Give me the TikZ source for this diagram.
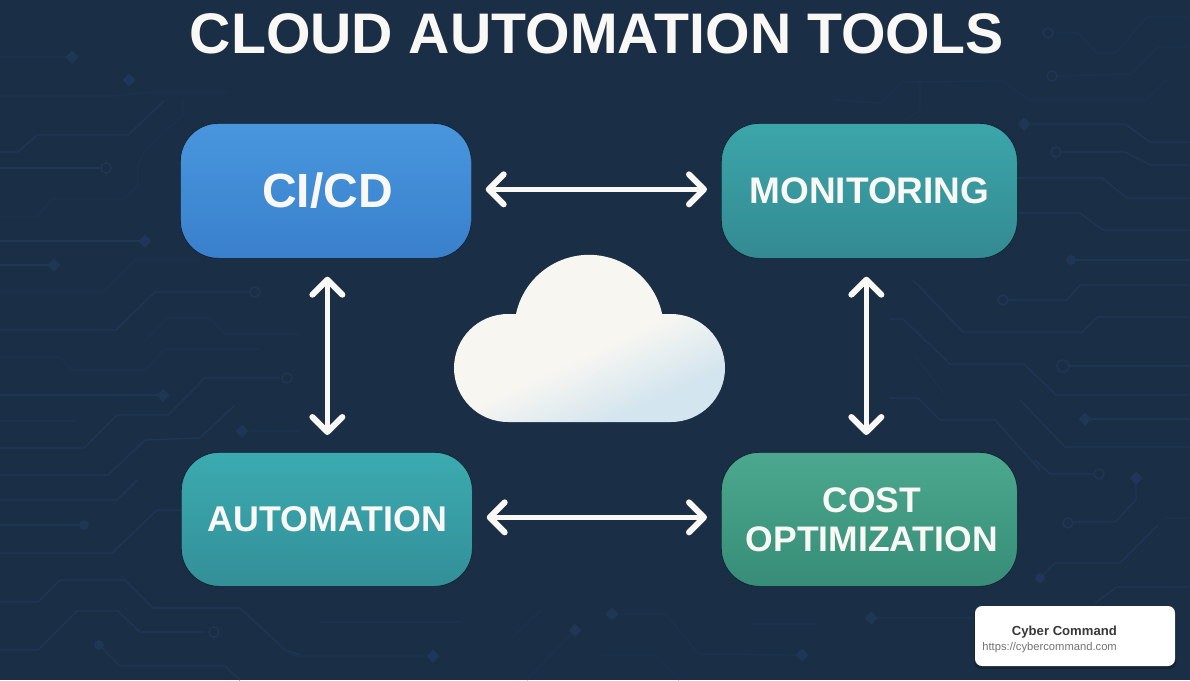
\documentclass[tikz,border=0pt]{standalone}
\usepackage{fontspec}
\setmainfont{Liberation Sans}
\usetikzlibrary{arrows.meta}
\definecolor{bgc}{HTML}{1A2E46}
\definecolor{tracec}{HTML}{1F3754}
\definecolor{tracefaint}{HTML}{1C324C}
\definecolor{blueT}{HTML}{4896DE}
\definecolor{blueB}{HTML}{3A80CC}
\definecolor{tealT}{HTML}{3BA6AA}
\definecolor{tealB}{HTML}{348A92}
\definecolor{autoT}{HTML}{3BABB0}
\definecolor{autoB}{HTML}{338F98}
\definecolor{greenT}{HTML}{4BA88D}
\definecolor{greenB}{HTML}{378D78}
\definecolor{cloudA}{HTML}{F7F6F1}
\definecolor{cloudB}{HTML}{D3E5EE}
\definecolor{whitec}{HTML}{FAF8F4}
\pgfdeclareverticalshading{cloudsh}{100bp}{color(0bp)=(cloudB); color(29bp)=(cloudB); color(46bp)=(cloudA); color(100bp)=(cloudA)}
\tikzset{
  x=1pt,y=-1pt,
  trace/.style={draw=tracec,line width=1.4pt,line join=round},
  tracelow/.style={draw=tracefaint,line width=1.4pt,line join=round},
  ring/.style={draw=tracec,line width=1.4pt,fill=bgc},
  padc/.style={fill=tracec},
  box/.style={rounded corners=38pt,draw=bgc!70!black,line width=.7pt,text=whitec,font=\bfseries,align=center,inner sep=0pt,anchor=north west},
  link/.style={draw=whitec,line width=4.8pt,line cap=round,{Straight Barb[length=15pt,width=30pt,round,line width=6pt]}-{Straight Barb[length=15pt,width=30pt,round,line width=6pt]}},
}
\newcommand{\diam}[2]{\fill[padc] (#1-6.5,#2) -- (#1,#2-6.5) -- (#1+6.5,#2) -- (#1,#2+6.5) -- cycle;}
\begin{document}
\begin{tikzpicture}
\useasboundingbox (0,0) rectangle (1190,680);
\fill[bgc] (0,0) rectangle (1190,680);
% left traces
\draw[trace] (0,152) -- (18,152) -- (37,135) -- (128,135) -- (165,100);
\draw[trace] (0,168) -- (100,168);
\draw[ring] (106,168) circle (5);
\draw[tracelow] (183,100) -- (183,115) -- (145,150) -- (138,165) -- (138,185) -- (123,199) -- (52,199) -- (37,217) -- (0,217);
\draw[trace] (0,241) -- (140,241); \diam{145}{241}
\draw[trace] (0,265) -- (50,265); \diam{54}{265}
\draw[trace] (0,330) -- (116,330) -- (155,292) -- (250,292);
\draw[ring] (255,292) circle (5);
\draw[tracelow] (0,292) -- (103,292) -- (135,260) -- (200,260);
\draw[tracelow] (145,340) -- (168,318) -- (210,318) -- (225,334) -- (300,334);
\draw[tracelow] (0,357) -- (60,357) -- (72,370) -- (145,370) -- (165,349) -- (260,349);
\draw[trace] (0,395) -- (160,395); \diam{163}{395}
\draw[tracelow] (0,421) -- (75,421);
\draw[trace] (0,448) -- (84,448) -- (117,415) -- (168,415) -- (205,378) -- (280,378);
\draw[ring] (287,378) circle (5);
\draw[trace] (0,475) -- (108,475) -- (145,440) -- (200,438) -- (235,405);
\draw[tracelow] (250,431) -- (300,431); \diam{242}{431}
\draw[trace] (0,500) -- (117,500) -- (137,480);
\draw[trace] (0,525) -- (80,525); \fill[padc] (84,525) circle (5);
\draw[trace] (0,553) -- (112,553) -- (157,510) -- (181,510);
\draw[trace] (0,602) -- (38,602) -- (60,580) -- (125,580) -- (153,608) -- (240,608) -- (285,650) -- (300,655);
\draw[trace] (0,650) -- (38,650) -- (77,611) -- (118,611) -- (140,632) -- (205,632);
\draw[ring] (214,632) circle (5);
\fill[padc] (99,645) circle (5);
\draw[trace] (99,645) -- (120,666) -- (225,666) -- (240,680);
% top
\draw[tracelow] (0,57) -- (68,57); \diam{72}{57}
\draw[tracelow] (0,96) -- (114,96) -- (152,92) -- (228,92); \diam{129}{80}
\draw[tracelow] (835,100) -- (880,103) -- (903,82) -- (1002,81) -- (1029,100) -- (1146,100) -- (1167,80);
\draw[tracelow] (920,80) -- (920,110) -- (905,120);
\draw[tracelow] (1190,17) -- (1147,17) -- (1116,53) -- (1097,53) -- (1078,33) -- (1053,33);
\draw[ring] (1048,33) circle (5);
\draw[tracelow] (1190,47) -- (1158,47) -- (1131,74) -- (1057,76);
\draw[ring] (1052,76) circle (5);
% right
\draw[trace] (1024,124) -- (1125,124) -- (1150,142) -- (1190,142); \diam{1024}{124}
\draw[trace] (1061,152) -- (1125,152) -- (1150,165) -- (1190,165);
\draw[ring] (1056,152) circle (5);
\draw[trace] (1017,178) -- (1102,178) -- (1127,198) -- (1190,198);
\draw[trace] (1017,213) -- (1080,213) -- (1103,230) -- (1190,230);
\fill[padc] (1071,260) circle (5);
\draw[trace] (1071,260) -- (1190,260);
\draw[trace] (913,280) -- (963,332) -- (1082,332) -- (1098,317) -- (1190,317);
\draw[trace] (1008,300) -- (1067,300) -- (1080,285) -- (1190,285);
\draw[ring] (1003,300) circle (5);
\draw[trace] (890,319) -- (903,319) -- (950,364) -- (1024,364) -- (1056,395) -- (1190,395);
\draw[trace] (1069,366) -- (1190,366);
\draw[ring] (1063,366) circle (6);
\draw[trace] (1090,419) -- (1190,419); \diam{1085}{419}
\draw[trace] (890,398) -- (918,398) -- (940,420) -- (995,420) -- (1040,470);
\draw[trace] (1020,400) -- (1065,447) -- (1190,447);
\draw[tracelow] (915,355) -- (945,395);
\draw[trace] (1035,460) -- (1050,474) -- (1094,474);
\draw[ring] (1099,474) circle (5);
\diam{1136}{478}
\draw[trace] (1136,478) -- (1136,500) -- (1115,522) -- (1073,522);
\draw[ring] (1068,523) circle (5);
\fill[padc] (1040,578) circle (5);
\draw[trace] (1040,578) -- (1055,563) -- (1120,563) -- (1158,525);
\draw[tracelow] (1165,518) -- (1190,518);
\draw[trace] (1095,603) -- (1117,587) -- (1190,587);
% bottom
\draw[tracelow] (270,635) -- (293,656) -- (433,656); \diam{433}{656}
\draw[tracelow] (320,622) -- (460,622);
\draw[tracelow] (527,680) -- (575,630); \diam{575}{630}
\draw[tracelow] (513,637) -- (541,610);
\draw[tracelow] (612,614) -- (665,614) -- (699,654) -- (802,655); \diam{612}{614} \diam{802}{655}
\draw[tracelow] (600,655) -- (656,655) -- (679,680);
\draw[tracelow] (871,618) -- (975,618); \diam{871}{618}
\draw[tracelow] (752,624) -- (816,624);

% title
\node[text=whitec,font=\fontsize{57.2}{60}\selectfont\bfseries,inner sep=0pt] (title) at (596.5,34) {CLOUD AUTOMATION TOOLS};

% boxes
\node[box,minimum width=291pt,minimum height=135pt,top color=blueT,bottom color=blueB,font=\fontsize{48}{52}\selectfont\bfseries] (cicd) at (180,123) {\hspace*{3pt}CI/CD};
\node[box,minimum width=296pt,minimum height=135pt,top color=tealT,bottom color=tealB,font=\fontsize{37}{40}\selectfont\bfseries] (mon) at (721,123) {MONITORING};
\node[box,minimum width=291pt,minimum height=134pt,top color=autoT,bottom color=autoB,font=\fontsize{35.8}{40}\selectfont\bfseries] (auto) at (181,452) {\hspace*{1.5pt}AUTOMATION};
\node[box,minimum width=296pt,minimum height=134pt,top color=greenT,bottom color=greenB,font=\fontsize{35.5}{39}\selectfont\bfseries] (cost) at (721,452) {\hspace*{5pt}COST\\\hspace*{5pt}OPTIMIZATION};

% connectors
\draw[link,shorten <=14pt,shorten >=14pt] ([yshift=1.5pt]cicd.east) -- ([yshift=1.5pt]mon.west);
\draw[link,shorten <=14pt,shorten >=14pt] ([yshift=2pt]auto.east) -- ([yshift=2pt]cost.west);
\draw[link,shorten <=18pt,shorten >=17pt] ([xshift=1.5pt]cicd.south) -- ([xshift=.5pt]auto.north);
\draw[link,shorten <=18pt,shorten >=17pt] ([xshift=-3pt]mon.south) -- ([xshift=-3pt]cost.north);

% cloud
\shade[shading=cloudsh,shading angle=25]
  (508,422) arc[start angle=90,delta angle=180,radius=54]
  -- (516,314) arc[start angle=192,delta angle=156,radius=74.7]
  -- (671,314) arc[start angle=270,delta angle=180,radius=54] -- cycle;

% card
\fill[black,opacity=.22,rounded corners=7pt] (974,607) rectangle (1176,669);
\node[fill=white,rounded corners=7pt,minimum width=200pt,minimum height=60pt,inner sep=0pt] (card) at (1075,636) {};
\node[anchor=base east,inner sep=0pt,text=black!78,font=\fontsize{13.1}{16}\selectfont\bfseries] (cardname) at (1117,635) {Cyber Command};
\node[anchor=base east,inner sep=0pt,text=black!55,font=\fontsize{11.2}{13}\selectfont] (cardurl) at (1117,650) {https://cybercommand.com};
\end{tikzpicture}
\end{document}
